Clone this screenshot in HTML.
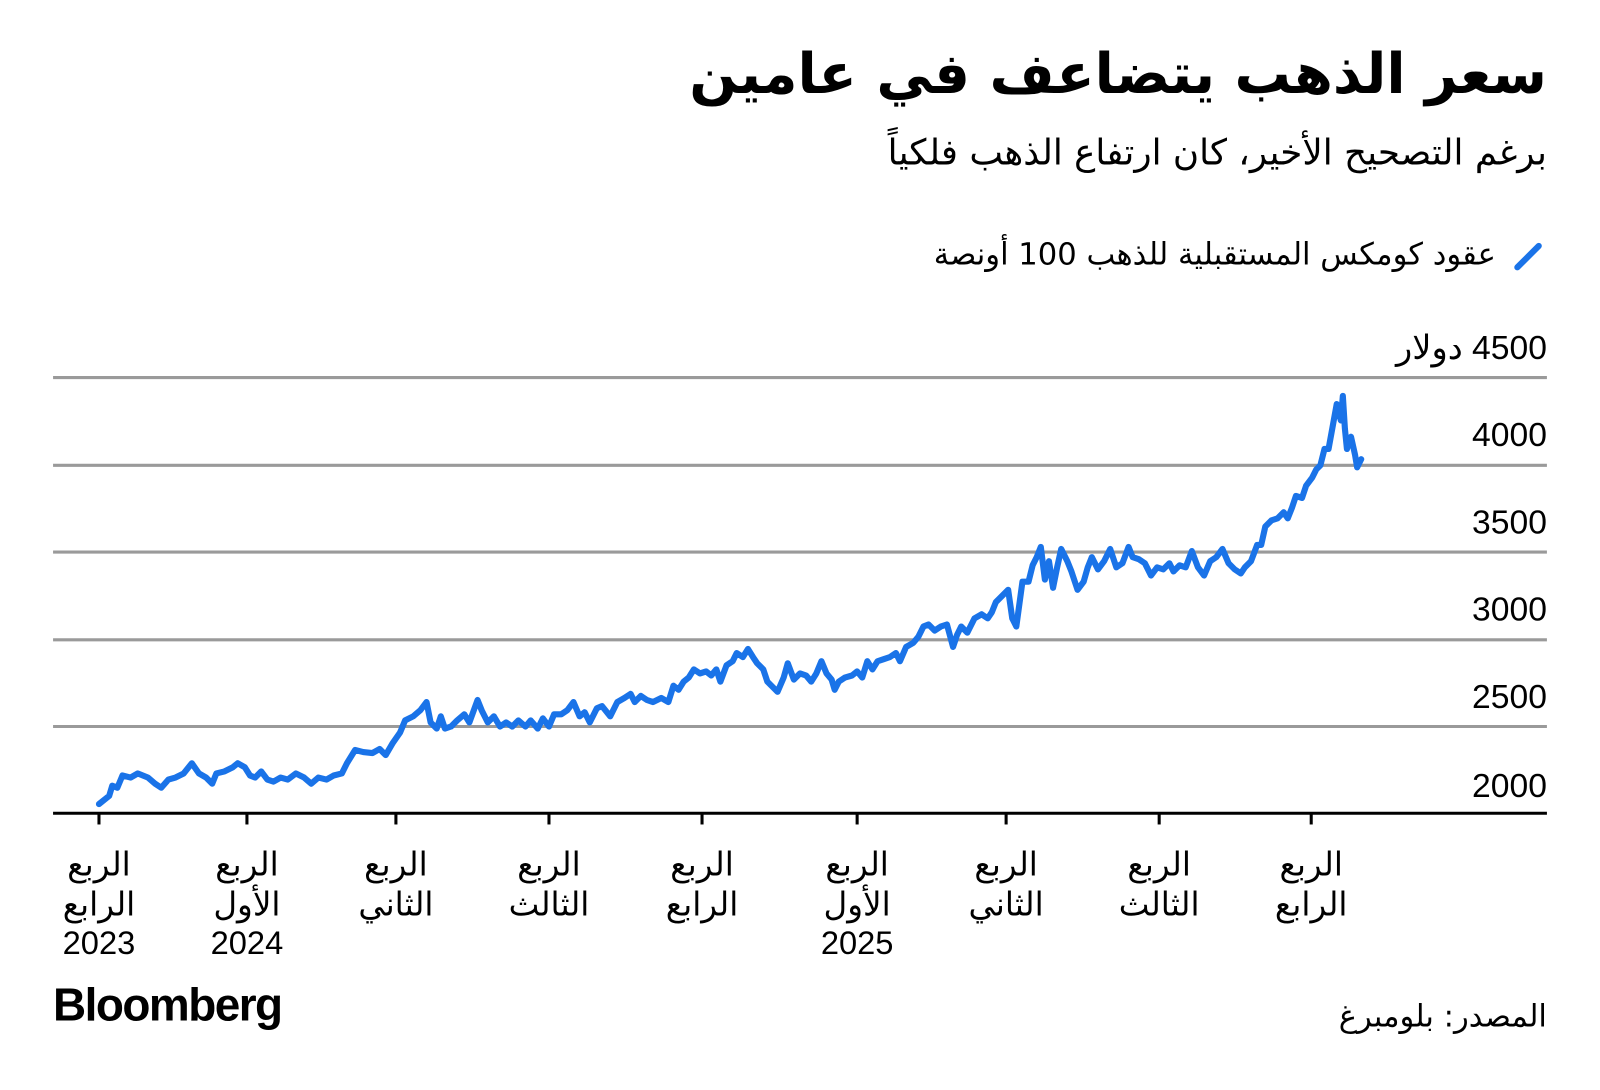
<!DOCTYPE html>
<html><head><meta charset="utf-8"><style>
body{margin:0;background:#fff;width:1600px;height:1089px;overflow:hidden;font-family:"DejaVu Sans","Liberation Sans",sans-serif;color:#000}
#w{position:absolute;left:0;top:0;width:1568px;height:1068px;transform:scale(1.0204);transform-origin:0 0}
.t{position:absolute;direction:rtl;white-space:nowrap}
</style></head><body><div id="w">
<div class="t" style="right:52px;top:40px;font-size:55px;font-weight:bold">سعر الذهب يتضاعف في عامين</div>
<div class="t" style="right:52px;top:130px;font-size:35px">برغم التصحيح الأخير، كان ارتفاع الذهب فلكياً</div>
<div class="t" style="right:102px;top:232px;font-size:30px">عقود كومكس المستقبلية للذهب 100 أونصة</div>
<svg width="1568" height="1068" style="position:absolute;left:0;top:0">
<line x1="1487" y1="262" x2="1508" y2="241" stroke="#1a73e8" stroke-width="6" stroke-linecap="round"/>
<g stroke="#9a9a9a" stroke-width="3">
<line x1="52" y1="370" x2="1516" y2="370"/><line x1="52" y1="456" x2="1516" y2="456"/>
<line x1="52" y1="541" x2="1516" y2="541"/><line x1="52" y1="627" x2="1516" y2="627"/>
<line x1="52" y1="712" x2="1516" y2="712"/></g>
<line x1="52" y1="797" x2="1516" y2="797" stroke="#000" stroke-width="3"/>
<g stroke="#000" stroke-width="3">
<line x1="97" y1="797" x2="97" y2="808"/><line x1="242" y1="797" x2="242" y2="808"/><line x1="388" y1="797" x2="388" y2="808"/><line x1="538" y1="797" x2="538" y2="808"/><line x1="688" y1="797" x2="688" y2="808"/><line x1="840" y1="797" x2="840" y2="808"/><line x1="986" y1="797" x2="986" y2="808"/><line x1="1136" y1="797" x2="1136" y2="808"/><line x1="1285" y1="797" x2="1285" y2="808"/></g>
<g font-size="33" text-anchor="end" font-family="Liberation Sans, DejaVu Sans, sans-serif">
<text x="1516" y="352" direction="rtl" text-anchor="start">4500 دولار</text>
<text x="1516" y="437">4000</text><text x="1516" y="523">3500</text><text x="1516" y="608">3000</text><text x="1516" y="694">2500</text><text x="1516" y="781">2000</text></g>
<polyline fill="none" stroke="#1a73e8" stroke-width="6" stroke-linejoin="round" stroke-linecap="round" points="97,788 107,780 110,770 115,772 120,760 128,762 135,758 145,762 152,768 158,772 165,764 172,762 180,758 188,748 195,758 202,762 208,768 212,758 220,756 228,752 233,748 240,752 245,760 250,762 256,756 262,764 268,766 275,762 282,764 290,758 298,762 305,768 312,762 320,764 327,760 335,758 340,748 348,735 356,737 365,738 372,734 378,740 385,728 392,718 397,706 405,702 412,696 418,688 422,708 428,714 432,702 436,714 442,712 448,706 455,700 460,708 468,686 472,696 478,708 484,702 490,712 496,708 502,712 508,706 515,712 520,706 527,714 532,704 538,712 543,700 550,700 556,696 562,688 568,702 573,698 578,708 585,694 590,692 598,702 605,688 612,684 618,680 622,688 628,682 634,686 640,688 648,684 655,688 660,672 665,676 670,668 675,664 680,656 686,660 692,658 697,662 702,656 706,668 712,652 718,648 722,640 728,644 733,636 738,644 742,650 748,656 752,668 758,674 762,678 768,664 772,650 778,666 784,660 790,662 795,668 800,660 805,648 810,660 815,666 818,676 822,668 828,664 835,662 840,658 845,664 850,648 855,656 860,648 866,646 872,644 878,640 882,648 888,634 895,630 900,624 905,614 910,612 916,618 922,614 928,612 934,634 938,622 942,614 948,620 955,606 962,602 968,606 972,600 976,590 982,584 988,578 992,606 996,614 1002,570 1008,570 1012,554 1016,546 1020,536 1024,568 1028,550 1032,576 1036,556 1040,538 1046,550 1050,560 1056,578 1062,570 1066,556 1070,546 1076,558 1082,550 1088,538 1094,556 1100,552 1106,536 1110,546 1116,548 1122,552 1128,564 1134,556 1140,558 1146,552 1150,560 1156,554 1162,556 1168,540 1174,556 1180,564 1186,550 1192,546 1198,538 1204,552 1210,558 1216,562 1220,556 1226,550 1232,534 1236,534 1240,516 1246,510 1252,508 1258,502 1262,508 1266,498 1270,486 1276,488 1280,476 1286,468 1290,460 1294,456 1298,440 1302,440 1306,418 1310,396 1314,412 1316,388 1318,420 1320,440 1324,428 1328,446 1330,458 1334,450"/>
<g font-size="32" text-anchor="middle" font-family="Liberation Sans, DejaVu Sans, sans-serif">
<text x="97" y="858">الربع</text><text x="97" y="897">الرابع</text><text x="97" y="935">2023</text>
<text x="242" y="858">الربع</text><text x="242" y="897">الأول</text><text x="242" y="935">2024</text>
<text x="388" y="858">الربع</text><text x="388" y="897">الثاني</text>
<text x="538" y="858">الربع</text><text x="538" y="897">الثالث</text>
<text x="688" y="858">الربع</text><text x="688" y="897">الرابع</text>
<text x="840" y="858">الربع</text><text x="840" y="897">الأول</text><text x="840" y="935">2025</text>
<text x="986" y="858">الربع</text><text x="986" y="897">الثاني</text>
<text x="1136" y="858">الربع</text><text x="1136" y="897">الثالث</text>
<text x="1285" y="858">الربع</text><text x="1285" y="897">الرابع</text></g>
<text x="52" y="1000" font-size="45" font-weight="bold" font-family="Liberation Sans, sans-serif" letter-spacing="-1.5">Bloomberg</text>
<text x="1516" y="1006" font-size="30" direction="rtl" text-anchor="start">المصدر: بلومبرغ</text>
</svg>
</div></body></html>
